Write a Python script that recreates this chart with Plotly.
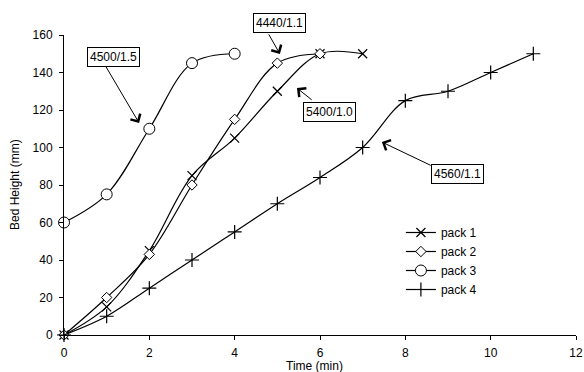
import plotly.graph_objects as go

# ---- data ----
time1 = [0, 1, 2, 3, 4, 5, 6, 7]
pack1 = [0, 15, 45, 85, 105, 130, 150, 150]
time2 = [0, 1, 2, 3, 4, 5, 6]
pack2 = [0, 20, 43, 80, 115, 145, 150]
time3 = [0, 1, 2, 3, 4]
pack3 = [60, 75, 110, 145, 150]
time4 = [0, 1, 2, 3, 4, 5, 6, 7, 8, 9, 10, 11]
pack4 = [0, 10, 25, 40, 55, 70, 84, 100, 125, 130, 140, 150]

labels = ["4500/1.5", "4440/1.1", "5400/1.0", "4560/1.1"]
# label box centres in paper coordinates
label_pos = [(0.0967, 0.928), (0.420, 1.040), (0.5195, 0.745), (0.7676, 0.538)]
arrow_head = [(1.76, 113.1), (5.06, 149.9), (5.46, 131.7), (7.45, 102.9)]
arrow_tail = [(0.96, 144.0), (4.78, 161.1), (5.84, 124.8), (8.63, 90.1)]

FONT = "Liberation Sans, Arial, sans-serif"

fig = go.Figure()
series = [
    ("pack 1", time1, pack1, dict(symbol="x-thin-open", size=9, color="black", line=dict(color="black", width=1.2))),
    ("pack 2", time2, pack2, dict(symbol="diamond", size=8, color="white", line=dict(color="black", width=1))),
    ("pack 3", time3, pack3, dict(symbol="circle", size=11, color="white", line=dict(color="black", width=1))),
    ("pack 4", time4, pack4, dict(symbol="cross-thin-open", size=10, color="black", line=dict(color="black", width=1.2))),
]
for name, xs, ys, mk in series:
    fig.add_trace(go.Scatter(
        x=xs, y=ys, name=name, mode="lines+markers",
        line=dict(color="black", width=1.2, shape="spline", smoothing=1),
        marker=mk, cliponaxis=False,
    ))

annotations = []
for (hx, hy), (tx, ty) in zip(arrow_head, arrow_tail):
    annotations.append(dict(
        x=hx, y=hy, ax=tx, ay=ty, xref="x", yref="y", axref="x", ayref="y",
        text="", showarrow=True, arrowhead=4, arrowsize=2.2, arrowwidth=1,
        arrowcolor="black",
    ))
for txt, (lx, ly) in zip(labels, label_pos):
    annotations.append(dict(
        x=lx, y=ly, xref="paper", yref="paper", xanchor="center", yanchor="middle",
        text=txt, showarrow=False,
        font=dict(family=FONT, size=12, color="black"),
        bordercolor="black", borderwidth=1, borderpad=2, bgcolor="white",
    ))
annotations.append(dict(
    x=0.49, y=-0.103, xref="paper", yref="paper", xanchor="center", yanchor="middle",
    text="Time (min)", showarrow=False, font=dict(family=FONT, size=12, color="black"),
))
annotations.append(dict(
    x=-0.0957, y=0.5, xref="paper", yref="paper", textangle=-90,
    xanchor="center", yanchor="middle",
    text="Bed Height (mm)", showarrow=False, font=dict(family=FONT, size=12, color="black"),
))

fig.update_layout(
    width=584, height=372,
    margin=dict(l=64, r=8, t=35, b=37),
    paper_bgcolor="white", plot_bgcolor="white",
    font=dict(family=FONT, size=12, color="black"),
    showlegend=True,
    legend=dict(x=0.658, y=0.39, xanchor="left", yanchor="top",
                bgcolor="rgba(0,0,0,0)", itemwidth=30,
                font=dict(family=FONT, size=12, color="black")),
    annotations=annotations,
)
fig.update_xaxes(range=[0, 12], dtick=2, tick0=0, showgrid=False, zeroline=False,
                 showline=True, linecolor="black", linewidth=1, automargin=False,
                 ticks="outside", ticklen=4, tickcolor="black", ticklabelstandoff=3,
                 tickfont=dict(family=FONT, size=12, color="black"))
fig.update_yaxes(range=[0, 160], dtick=20, tick0=0, showgrid=False, zeroline=False,
                 showline=True, linecolor="black", linewidth=1, automargin=False,
                 ticks="outside", ticklen=4, tickcolor="black", ticklabelstandoff=4,
                 tickfont=dict(family=FONT, size=12, color="black"))

fig.write_html("out.html")
